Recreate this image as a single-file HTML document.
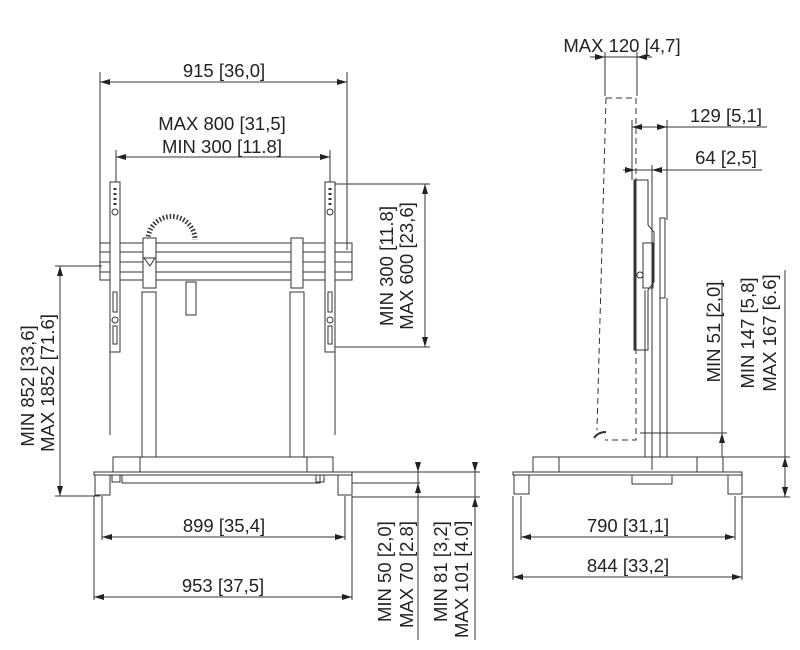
<!DOCTYPE html>
<html><head><meta charset="utf-8"><style>
html,body{margin:0;padding:0;background:#fff}
svg{display:block}
text{font-family:"Liberation Sans",sans-serif;font-size:18.5px;fill:#222}
</style></head><body>
<svg width="800" height="650" viewBox="0 0 800 650" xmlns="http://www.w3.org/2000/svg">
<defs>
<marker id="a" viewBox="0 0 10 6" refX="10" refY="3" markerWidth="10" markerHeight="6" orient="auto-start-reverse" markerUnits="userSpaceOnUse"><path d="M0,0 L10,3 L0,6z" fill="#222"/></marker>
</defs>
<g stroke="#333" stroke-width="1" fill="none">
<line x1="100" y1="72" x2="100" y2="250"/><line x1="347" y1="72" x2="347" y2="250"/>
<line x1="100" y1="82" x2="347" y2="82" marker-start="url(#a)" marker-end="url(#a)"/>
<line x1="116" y1="150" x2="116" y2="185"/><line x1="330" y1="150" x2="330" y2="185"/>
<line x1="116" y1="157" x2="330" y2="157" marker-start="url(#a)" marker-end="url(#a)"/>
<line x1="55" y1="266" x2="102" y2="266"/><line x1="55" y1="496" x2="100" y2="496"/>
<line x1="60" y1="266" x2="60" y2="496" marker-start="url(#a)" marker-end="url(#a)"/>
<line x1="335" y1="184" x2="430" y2="184"/><line x1="335" y1="347" x2="430" y2="347"/>
<line x1="425" y1="184" x2="425" y2="347" marker-start="url(#a)" marker-end="url(#a)"/>
<line x1="352" y1="472" x2="480" y2="472"/><line x1="352" y1="483" x2="420" y2="483"/><line x1="352" y1="497" x2="480" y2="497"/>
<line x1="418" y1="472" x2="418" y2="640"/><line x1="475" y1="465" x2="475" y2="640"/>
<line x1="418" y1="462" x2="418" y2="472" marker-end="url(#a)"/><line x1="418" y1="507" x2="418" y2="483" marker-end="url(#a)"/>
<line x1="475" y1="462" x2="475" y2="472" marker-end="url(#a)"/><line x1="475" y1="507" x2="475" y2="497" marker-end="url(#a)"/>
<line x1="102" y1="496" x2="102" y2="540"/><line x1="345" y1="496" x2="345" y2="540"/>
<line x1="102" y1="537" x2="345" y2="537" marker-start="url(#a)" marker-end="url(#a)"/>
<line x1="94" y1="496" x2="94" y2="600"/><line x1="352" y1="496" x2="352" y2="600"/>
<line x1="94" y1="597" x2="352" y2="597" marker-start="url(#a)" marker-end="url(#a)"/>
<rect x="100" y="243" width="252" height="37"/>
<line x1="100" y1="252" x2="352" y2="252"/><line x1="100" y1="262" x2="352" y2="262"/><line x1="100" y1="272" x2="352" y2="272"/>
<rect x="110" y="182" width="10" height="170" fill="#fff"/><rect x="325" y="182" width="10" height="170" fill="#fff"/>
<circle cx="115" cy="212" r="3"/><circle cx="115" cy="320" r="3"/><circle cx="330" cy="212" r="3"/><circle cx="330" cy="320" r="3"/>
<rect x="113" y="292" width="4" height="20"/><rect x="113" y="326" width="4" height="18"/><rect x="328" y="292" width="4" height="20"/><rect x="328" y="326" width="4" height="18"/>
<line x1="115" y1="188" x2="115" y2="208" stroke-dasharray="2,3" stroke-width="3"/><line x1="330" y1="188" x2="330" y2="208" stroke-dasharray="2,3" stroke-width="3"/>
<line x1="110" y1="352" x2="110" y2="435"/><line x1="335" y1="352" x2="335" y2="435"/>
<path d="M148,240 A22,22 0 0 1 195,240" stroke-width="5" stroke-dasharray="1.5,2"/>
<rect x="143" y="238" width="13" height="50" fill="#fff"/><rect x="291" y="238" width="12" height="50" fill="#fff"/>
<path d="M144,258 L155,258 L150,266z"/>
<rect x="142" y="292" width="14" height="165" fill="#fff"/><rect x="290" y="292" width="14" height="165" fill="#fff"/>
<rect x="186" y="282" width="10" height="33"/>
<rect x="113" y="457" width="220" height="15"/>
<line x1="140" y1="457" x2="140" y2="472"/><line x1="307" y1="457" x2="307" y2="472"/>
<rect x="94" y="472" width="258" height="3"/>
<rect x="95" y="475" width="15" height="20"/><rect x="338" y="475" width="14" height="20"/>
<rect x="122" y="475" width="198" height="8"/><rect x="112" y="475" width="8" height="7"/><rect x="316" y="475" width="8" height="7"/>
<line x1="605" y1="52" x2="605" y2="96"/><line x1="637" y1="52" x2="637" y2="96"/>
<line x1="590" y1="57" x2="605" y2="57" marker-end="url(#a)"/><line x1="652" y1="57" x2="637" y2="57" marker-end="url(#a)"/><line x1="605" y1="57" x2="637" y2="57"/>
<line x1="632" y1="120" x2="632" y2="180"/><line x1="667" y1="120" x2="667" y2="220"/>
<line x1="632" y1="127" x2="767" y2="127"/><line x1="632" y1="127" x2="645" y2="127" marker-start="url(#a)"/><line x1="655" y1="127" x2="667" y2="127" marker-end="url(#a)"/>
<line x1="652" y1="165" x2="652" y2="470"/>
<line x1="623" y1="170" x2="762" y2="170"/><line x1="623" y1="170" x2="635" y2="170" marker-end="url(#a)"/><line x1="664" y1="170" x2="652" y2="170" marker-end="url(#a)"/>
<line x1="640" y1="433" x2="727" y2="433"/>
<line x1="722" y1="280" x2="722" y2="457"/><line x1="722" y1="445" x2="722" y2="433" marker-end="url(#a)"/>
<line x1="723" y1="457" x2="790" y2="457"/><line x1="742" y1="497" x2="790" y2="497"/>
<line x1="785" y1="270" x2="785" y2="497"/><line x1="785" y1="470" x2="785" y2="457" marker-end="url(#a)"/><line x1="785" y1="484" x2="785" y2="497" marker-end="url(#a)"/>
<line x1="521" y1="496" x2="521" y2="540"/><line x1="735" y1="496" x2="735" y2="540"/>
<line x1="521" y1="537" x2="735" y2="537" marker-start="url(#a)" marker-end="url(#a)"/>
<line x1="513" y1="496" x2="513" y2="580"/><line x1="742" y1="496" x2="742" y2="580"/>
<line x1="513" y1="577" x2="742" y2="577" marker-start="url(#a)" marker-end="url(#a)"/>
<path d="M606,98 L636,98 M636,98 L636,440 L605,440 M606,98 L597,430" stroke-dasharray="6,4"/>
<path d="M594,438 Q598,432 606,432" stroke-width="2"/>
<rect x="634" y="180" width="2" height="170" fill="#333"/>
<path d="M636,180 L648,180 L648,225 L654,232 L654,282 L648,290 L648,350 L636,350z"/>
<rect x="643" y="243" width="10" height="45"/>
<rect x="660" y="218" width="5" height="80"/>
<circle cx="640" cy="275" r="3"/>
<line x1="645" y1="290" x2="645" y2="457"/><line x1="667" y1="298" x2="667" y2="457"/><line x1="660" y1="298" x2="660" y2="457"/>
<rect x="533" y="457" width="190" height="15"/>
<line x1="559" y1="457" x2="559" y2="472"/><line x1="697" y1="457" x2="697" y2="472"/>
<rect x="513" y="472" width="229" height="3"/>
<rect x="514" y="475" width="15" height="19"/><rect x="728" y="475" width="14" height="19"/>
<rect x="632" y="475" width="40" height="9"/>
</g>
<text x="224" y="77" text-anchor="middle">915 [36,0]</text>
<text x="222" y="130" text-anchor="middle">MAX 800 [31,5]</text>
<text x="222" y="153" text-anchor="middle">MIN 300 [11.8]</text>
<text x="224" y="532" text-anchor="middle">899 [35,4]</text>
<text x="223" y="592" text-anchor="middle">953 [37,5]</text>
<text x="628" y="532" text-anchor="middle">790 [31,1]</text>
<text x="628" y="572" text-anchor="middle">844 [33,2]</text>
<text x="622" y="52" text-anchor="middle">MAX 120 [4,7]</text>
<text x="726" y="122" text-anchor="middle">129 [5,1]</text>
<text x="726" y="164" text-anchor="middle">64 [2,5]</text>
<g text-anchor="middle">
<text transform="translate(34,386) rotate(-90)">MIN 852 [33,6]</text>
<text transform="translate(54,383) rotate(-90)">MAX 1852 [71.6]</text>
<text transform="translate(393,266) rotate(-90)">MIN 300 [11.8]</text>
<text transform="translate(413,266) rotate(-90)">MAX 600 [23,6]</text>
<text transform="translate(720,332) rotate(-90)">MIN 51 [2,0]</text>
<text transform="translate(754,333) rotate(-90)">MIN 147 [5,8]</text>
<text transform="translate(776,333) rotate(-90)">MAX 167 [6.6]</text>
</g>
<g text-anchor="start">
<text transform="translate(391,622) rotate(-90)">MIN 50 [2,0]</text>
<text transform="translate(413,628) rotate(-90)">MAX 70 [2.8]</text>
<text transform="translate(447,622) rotate(-90)">MIN 81 [3,2]</text>
<text transform="translate(468,638) rotate(-90)">MAX 101 [4.0]</text>
</g>
</svg>
</body></html>
